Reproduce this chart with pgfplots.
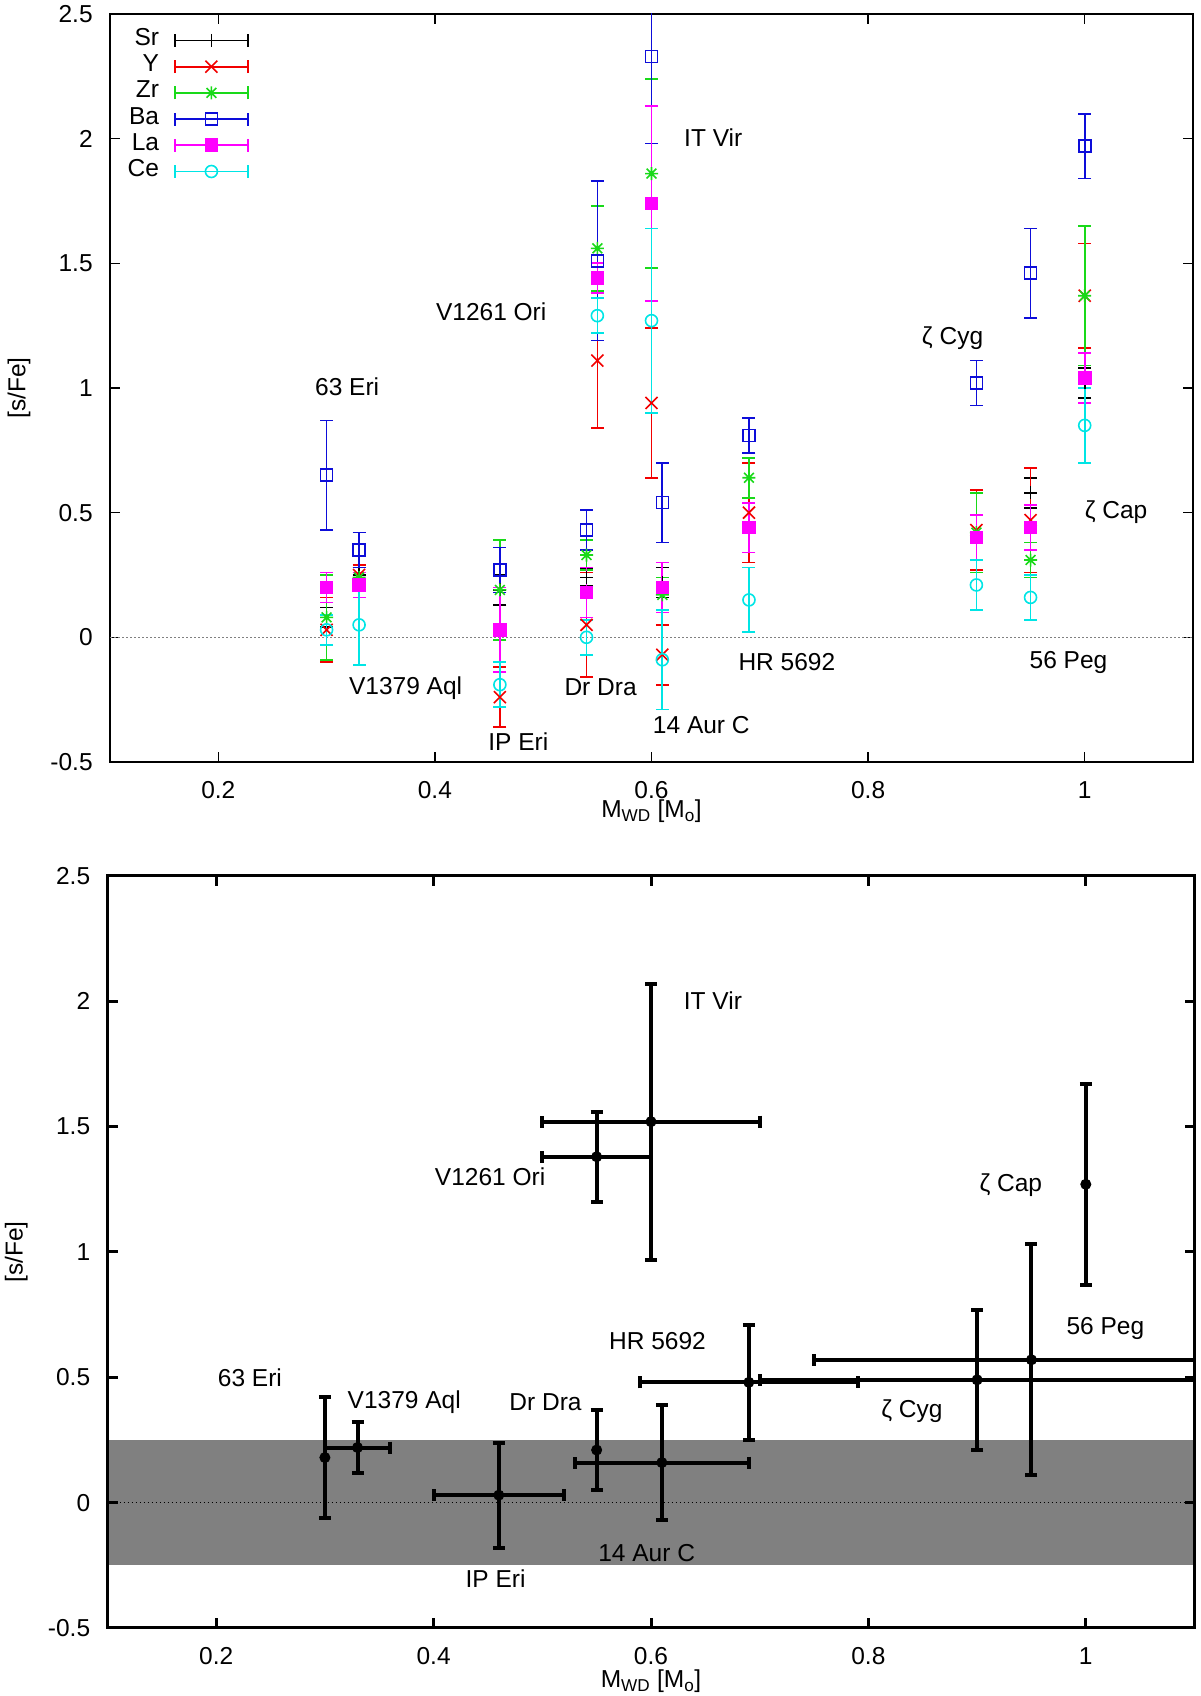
\documentclass[border=0pt]{standalone}
\usepackage{fontspec}
\setmainfont{Liberation Sans}
\usepackage{pgfplots}
\pgfplotsset{compat=1.18}
\newcommand\fs{\fontsize{24.5}{29}\selectfont}
\definecolor{gR}{rgb}{0.95,0,0}
\definecolor{gG}{rgb}{0.1,0.85,0.1}
\definecolor{gB}{rgb}{0.05,0.05,0.85}
\definecolor{gM}{rgb}{1,0,1}
\definecolor{gC}{rgb}{0,0.9,0.9}
\definecolor{band}{rgb}{0.5,0.5,0.5}
\pgfdeclareplotmark{gstar}{%
  \pgfpathmoveto{\pgfqpoint{-\pgfplotmarksize}{0pt}}\pgfpathlineto{\pgfqpoint{\pgfplotmarksize}{0pt}}%
  \pgfpathmoveto{\pgfqpoint{0pt}{-\pgfplotmarksize}}\pgfpathlineto{\pgfqpoint{0pt}{\pgfplotmarksize}}%
  \pgfpathmoveto{\pgfqpoint{-0.75\pgfplotmarksize}{-0.75\pgfplotmarksize}}\pgfpathlineto{\pgfqpoint{0.75\pgfplotmarksize}{0.75\pgfplotmarksize}}%
  \pgfpathmoveto{\pgfqpoint{-0.75\pgfplotmarksize}{0.75\pgfplotmarksize}}\pgfpathlineto{\pgfqpoint{0.75\pgfplotmarksize}{-0.75\pgfplotmarksize}}%
  \pgfusepathqstroke}
\pgfplotsset{
  base/.style={
    scale only axis, xmin=0.1, xmax=1.1, ymin=-0.5, ymax=2.5,
    xtick={0.2,0.4,0.6,0.8,1}, xticklabels={0.2,0.4,0.6,0.8,1},
    ytick={-0.5,0,0.5,1,1.5,2,2.5}, yticklabels={-0.5,0,0.5,1,1.5,2,2.5},
    tick align=inside, major tick length=10pt, tick pos=both,
    tick label style={font=\fs},
    xticklabel style={yshift=-11pt},
    yticklabel style={xshift=-9pt},
    xlabel={M\textsubscript{WD} [M\textsubscript{o}]},
    ylabel={[s/Fe]},
    label style={font=\fs},
    every axis y label/.style={at={(axis description cs:-0.084,0.5)}, rotate=90, anchor=center},
  },
  topplot/.style={only marks, line width=1.7pt, mark options={solid, line width=1.6pt},
    error bars/y dir=both, error bars/y explicit, error bars/error bar style={line width=1.7pt, solid},
    error bars/error mark options={rotate=90, line width=1.7pt, mark size=6.5pt}},
  botplot/.style={only marks, black, mark=*, mark size=5pt, line width=4pt, mark options={solid, line width=1pt},
    error bars/error bar style={line width=4pt, solid},
    error bars/error mark options={rotate=90, line width=4pt, mark size=6pt}},
}
\begin{document}
\fs
\begin{tikzpicture}
\useasboundingbox (0,0) rectangle (1200pt,1696pt);
% ---------------- top panel ----------------
\begin{axis}[base, at={(110pt,934pt)}, anchor=south west, width=1083pt, height=748pt,
  axis line style={line width=1.3pt}, tick style={black, line width=1.3pt},
  every axis x label/.style={at={(axis description cs:0.5,-0.0655)}, anchor=center},
  legend style={draw=none, fill=none, at={(axis description cs:0.0125,0.985)}, anchor=north west,
    font=\fs, row sep=0pt, column sep=14pt, nodes={inner sep=1pt, text height=17.2pt, text depth=7pt}},
  legend plot pos=right, legend cell align=right,
  legend image code/.code={%
    \draw[#1] (0pt,0pt) -- (73pt,0pt);
    \draw[#1] (0pt,-6.5pt) -- (0pt,6.5pt);
    \draw[#1] (73pt,-6.5pt) -- (73pt,6.5pt);
    \draw[#1] plot coordinates {(36.5pt,0pt)};},
]
\addplot[gray, line width=0.8pt, dash pattern=on 1.5pt off 2.5pt, forget plot] coordinates {(0.1,0) (1.1,0)};
% Sr
\addplot[black, mark=+, mark size=6.5pt, topplot] table[x=x, y=y, y error=e, row sep=\\] {
x y e \\
0.30 0.08 0.04 \\
0.33 0.25 0.03 \\
0.46 0.19 0.06 \\
0.54 0.24 0.035 \\
0.61 0.22 0.06 \\
0.95 0.58 0.06 \\
1.00 1.02 0.06 \\
};
\addlegendentry{Sr}
% Y
\addplot[gR, mark=x, mark size=8.5pt, topplot] table[x=x, y=y, y error=e, row sep=\\] {
x y e \\
0.30 0.03 0.13 \\
0.33 0.25 0.04 \\
0.46 -0.24 0.12 \\
0.54 0.05 0.21 \\
0.55 1.11 0.27 \\
0.60 0.94 0.30 \\
0.61 -0.07 0.12 \\
0.69 0.50 0.20 \\
0.90 0.43 0.16 \\
0.95 0.47 0.21 \\
1.00 1.37 0.21 \\
};
\addlegendentry{Y}
% Zr
\addplot[gG, mark=gstar, mark size=6.5pt, topplot] table[x=x, y=y, y error=e, row sep=\\] {
x y e \\
0.30 0.08 0.17 \\
0.33 0.24 0.04 \\
0.46 0.19 0.20 \\
0.54 0.33 0.06 \\
0.55 1.56 0.17 \\
0.60 1.86 0.38 \\
0.61 0.17 0.07 \\
0.69 0.64 0.08 \\
0.90 0.42 0.16 \\
0.95 0.31 0.07 \\
1.00 1.37 0.28 \\
};
\addlegendentry{Zr}
% Ba
\addplot[gB, mark=square, mark size=6pt, topplot] table[x=x, y=y, y error=e, row sep=\\] {
x y e \\
0.30 0.65 0.22 \\
0.33 0.35 0.07 \\
0.46 0.27 0.09 \\
0.54 0.43 0.08 \\
0.55 1.51 0.32 \\
0.60 2.33 0.35 \\
0.61 0.54 0.16 \\
0.69 0.81 0.07 \\
0.90 1.02 0.09 \\
0.95 1.46 0.18 \\
1.00 1.97 0.13 \\
};
\addlegendentry{Ba}
% La
\addplot[gM, mark=square*, mark size=6pt, topplot] table[x=x, y=y, y error=e, row sep=\\] {
x y e \\
0.30 0.20 0.06 \\
0.33 0.21 0.05 \\
0.46 0.03 0.17 \\
0.54 0.18 0.10 \\
0.55 1.44 0.06 \\
0.60 1.74 0.39 \\
0.61 0.20 0.10 \\
0.69 0.44 0.10 \\
0.90 0.40 0.09 \\
0.95 0.44 0.09 \\
1.00 1.04 0.10 \\
};
\addlegendentry{La}
% Ce
\addplot[gC, mark=o, mark size=6pt, topplot] table[x=x, y=y, y error=e, row sep=\\] {
x y e \\
0.30 0.03 0.06 \\
0.33 0.05 0.16 \\
0.46 -0.19 0.09 \\
0.54 0.00 0.07 \\
0.55 1.29 0.07 \\
0.60 1.27 0.37 \\
0.61 -0.09 0.20 \\
0.69 0.15 0.13 \\
0.90 0.21 0.10 \\
0.95 0.16 0.09 \\
1.00 0.85 0.15 \\
};
\addlegendentry{Ce}
\node[font=\fs] at (axis cs:0.319,1.004) {63 Eri};
\node[font=\fs] at (axis cs:0.373,-0.204) {V1379 Aql};
\node[font=\fs] at (axis cs:0.477,-0.42) {IP Eri};
\node[font=\fs] at (axis cs:0.553,-0.20) {Dr Dra};
\node[font=\fs] at (axis cs:0.452,1.304) {V1261 Ori};
\node[font=\fs] at (axis cs:0.657,2.004) {IT Vir};
\node[font=\fs] at (axis cs:0.646,-0.352) {14 Aur C};
\node[font=\fs] at (axis cs:0.725,-0.10) {HR 5692};
\node[font=\fs] at (axis cs:0.878,1.2) {ζ Cyg};
\node[font=\fs] at (axis cs:0.985,-0.10) {56 Peg};
\node[font=\fs] at (axis cs:1.029,0.5) {ζ Cap};
\end{axis}
% ---------------- bottom panel ----------------
\begin{axis}[base, at={(107.5pt,68pt)}, anchor=south west, width=1087pt, height=752pt,
  axis on top,
  axis line style={line width=3pt}, tick style={black, line width=3pt},
  every axis x label/.style={at={(axis description cs:0.5,-0.0705)}, anchor=center},
]
\addplot[fill=band, draw=none, forget plot] coordinates {(0.1,-0.25) (1.1,-0.25) (1.1,0.25) (0.1,0.25)} -- cycle;
\addplot[black, line width=1pt, dash pattern=on 1.5pt off 2.5pt, forget plot] coordinates {(0.1,0) (1.1,0)};
\addplot[botplot, error bars/y dir=both, error bars/y explicit] table[x=x, y=y, y error=ey, row sep=\\] {
x y ey \\
0.30 0.18 0.24 \\
0.55 0.21 0.16 \\
1.00 1.27 0.40 \\
};
\addplot[botplot, error bars/x dir=both, error bars/x explicit, error bars/y dir=both, error bars/y explicit] table[x=x, y=y, x error=ex, y error=ey, row sep=\\] {
x y ex ey \\
0.33 0.22 0.03 0.10 \\
0.46 0.03 0.06 0.21 \\
0.55 1.38 0.05 0.18 \\
0.60 1.52 0.10 0.55 \\
0.61 0.16 0.08 0.23 \\
0.69 0.48 0.10 0.23 \\
0.90 0.49 0.20 0.28 \\
0.95 0.57 0.20 0.46 \\
};
\node[font=\fs] at (axis cs:0.657,2.004) {IT Vir};
\node[font=\fs] at (axis cs:0.452,1.30) {V1261 Ori};
\node[font=\fs] at (axis cs:0.931,1.266) {ζ Cap};
\node[font=\fs] at (axis cs:1.018,0.695) {56 Peg};
\node[font=\fs] at (axis cs:0.606,0.644) {HR 5692};
\node[font=\fs] at (axis cs:0.231,0.50) {63 Eri};
\node[font=\fs] at (axis cs:0.373,0.40) {V1379 Aql};
\node[font=\fs] at (axis cs:0.503,0.40) {Dr Dra};
\node[font=\fs] at (axis cs:0.840,0.367) {ζ Cyg};
\node[font=\fs] at (axis cs:0.596,-0.203) {14 Aur C};
\node[font=\fs] at (axis cs:0.457,-0.302) {IP Eri};
\end{axis}
\end{tikzpicture}
\end{document}
